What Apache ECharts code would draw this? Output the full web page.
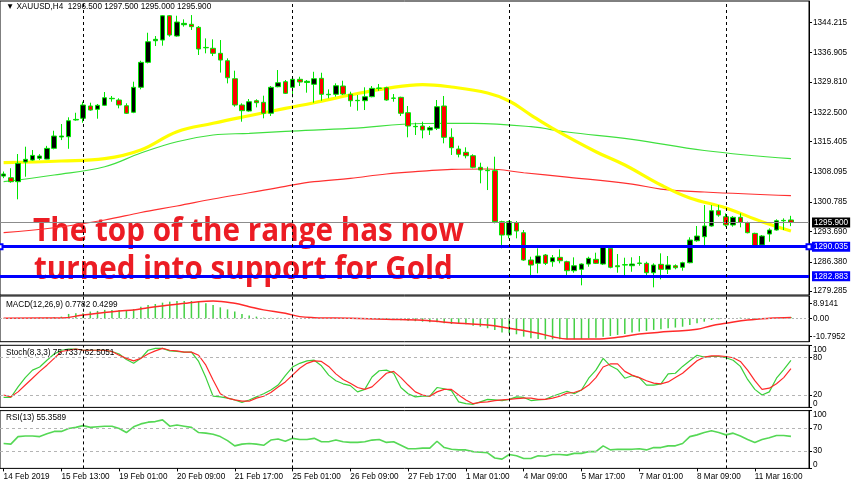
<!DOCTYPE html>
<html><head><meta charset="utf-8">
<script src="https://cdn.jsdelivr.net/npm/echarts@6/dist/echarts.min.js"></script>
<style>html,body{margin:0;padding:0;background:#fff}#c{width:852px;height:485px}</style>
</head><body><div id="c"></div>
<script>
const categories = [
'14 Feb 2019','14 Feb 09:00','14 Feb 13:00','14 Feb 17:00','14 Feb 21:00',
'15 Feb 01:00','15 Feb 05:00','15 Feb 09:00','15 Feb 13:00','15 Feb 17:00','15 Feb 21:00',
'18 Feb 01:00','18 Feb 05:00','18 Feb 09:00','18 Feb 13:00','18 Feb 17:00',
'19 Feb 01:00','19 Feb 05:00','19 Feb 09:00','19 Feb 13:00','19 Feb 17:00','19 Feb 21:00',
'20 Feb 01:00','20 Feb 05:00','20 Feb 09:00','20 Feb 13:00','20 Feb 17:00','20 Feb 21:00',
'21 Feb 01:00','21 Feb 05:00','21 Feb 09:00','21 Feb 13:00','21 Feb 17:00','21 Feb 21:00',
'22 Feb 01:00','22 Feb 05:00','22 Feb 09:00','22 Feb 13:00','22 Feb 17:00','22 Feb 21:00',
'25 Feb 01:00','25 Feb 05:00','25 Feb 09:00','25 Feb 13:00','25 Feb 17:00','25 Feb 21:00',
'26 Feb 01:00','26 Feb 05:00','26 Feb 09:00','26 Feb 13:00','26 Feb 17:00','26 Feb 21:00',
'27 Feb 01:00','27 Feb 05:00','27 Feb 09:00','27 Feb 13:00','27 Feb 17:00','27 Feb 21:00',
'28 Feb 01:00','28 Feb 05:00','28 Feb 09:00','28 Feb 13:00','28 Feb 17:00','28 Feb 21:00',
'1 Mar 01:00','1 Mar 05:00','1 Mar 09:00','1 Mar 13:00','1 Mar 17:00','1 Mar 21:00',
'4 Mar 01:00','4 Mar 05:00','4 Mar 09:00','4 Mar 13:00','4 Mar 17:00','4 Mar 21:00',
'5 Mar 01:00','5 Mar 05:00','5 Mar 09:00','5 Mar 13:00','5 Mar 17:00','5 Mar 21:00',
'6 Mar 01:00','6 Mar 05:00','6 Mar 09:00','6 Mar 13:00','6 Mar 17:00','6 Mar 21:00',
'7 Mar 01:00','7 Mar 05:00','7 Mar 09:00','7 Mar 13:00','7 Mar 17:00','7 Mar 21:00',
'8 Mar 01:00','8 Mar 05:00','8 Mar 09:00','8 Mar 13:00','8 Mar 17:00','8 Mar 21:00',
'11 Mar 00:00','11 Mar 04:00','11 Mar 08:00','11 Mar 12:00','11 Mar 16:00','11 Mar 20:00',
'12 Mar 00:00','12 Mar 04:00','12 Mar 08:00','12 Mar 12:00','12 Mar 16:00','12 Mar 20:00'
];
const opens = [1307.1,1306.7,1305.74,1310.5,1310.97,1311.4,1311.2,1313.8,1316.54,1316.61,
1320.65,1321.06,1324.03,1323.23,1324.2,1325.79,1325.48,1324.1,1322.51,1328.55,
1334.58,1339.8,1339.97,1345.84,1340.94,1343.67,1343.77,1343.04,1338.19,1337.97,
1336.76,1334.97,1330.62,1324.27,1322.82,1325.31,1324.92,1322.27,1328.69,1329.9,
1328.55,1330.48,1329.7,1329.27,1330.72,1326.76,1326.86,1328.86,1326.86,1325.31,
1325.31,1326.28,1328.3,1328.45,1325.96,1326.13,1322.41,1319.03,1319.2,1318.23,
1318.64,1324.03,1316.47,1313.64,1312.84,1312.02,1309.22,1308.49,1308.4,1296.08,
1292.86,1295.83,1293.42,1286.82,1286.02,1288.03,1286.41,1287.47,1286.41,1284.24,
1284.57,1285.85,1286.99,1285.85,1289.65,1285.44,1285.61,1285.44,1286.0,1286.02,
1283.75,1285.78,1284.57,1285.44,1285.06,1286.17,1291.48,1292.45,1295.04,1298.73,
1297.28,1295.28,1297.14,1295.83,1293.26,1290.45,1293.1,1294.07,1296.3,1296.5];
const closes = [1307.6,1305.74,1310.18,1311.15,1312.1,1311.95,1313.8,1316.78,1316.78,1320.48,
1320.8,1324.27,1323.06,1324.2,1326.03,1325.89,1324.27,1322.27,1328.55,1334.58,
1339.56,1340.14,1345.84,1341.18,1344.32,1344.0,1343.2,1337.8,1338.1,1336.76,
1335.14,1330.86,1324.27,1322.9,1325.07,1324.83,1322.27,1328.55,1329.66,1327.1,
1330.48,1329.83,1330.0,1330.62,1326.86,1326.86,1328.93,1326.93,1325.31,1325.4,
1326.28,1328.3,1328.38,1325.48,1325.89,1322.27,1319.2,1319.12,1318.23,1318.79,
1323.86,1316.47,1313.96,1312.36,1312.02,1309.22,1308.57,1308.4,1296.08,1292.86,
1296.08,1293.83,1286.82,1285.61,1287.79,1286.02,1287.38,1286.65,1284.24,1285.44,
1285.85,1287.23,1286.02,1289.89,1285.06,1285.2,1285.7,1285.85,1286.1,1283.75,
1285.61,1284.57,1285.61,1284.96,1286.17,1291.65,1292.62,1295.04,1298.73,1297.69,
1295.28,1297.14,1295.93,1293.42,1290.2,1292.62,1294.07,1296.32,1296.4,1295.9];
const lows = [1306.6,1305.5,1301.49,1306.94,1310.8,1310.97,1311.15,1313.56,1315.8,1313.7,
1320.48,1320.0,1322.9,1320.96,1324.03,1325.07,1323.47,1322.1,1322.3,1328.06,
1334.33,1338.52,1338.6,1340.77,1340.77,1343.2,1342.4,1336.35,1336.76,1336.1,
1332.1,1329.5,1323.86,1320.24,1322.65,1323.7,1321.06,1321.61,1328.55,1326.93,
1326.13,1328.86,1327.25,1324.83,1325.31,1325.89,1326.28,1326.69,1323.86,1322.9,
1323.06,1326.13,1327.72,1325.31,1325.07,1321.61,1316.47,1317.02,1316.22,1317.02,
1318.23,1315.02,1312.2,1311.63,1311.39,1308.98,1305.35,1303.73,1295.69,1289.65,
1292.06,1292.06,1286.65,1282.64,1283.61,1285.61,1285.2,1286.02,1282.96,1283.75,
1280.71,1285.2,1285.85,1285.61,1284.82,1283.75,1283.13,1283.99,1285.44,1283.2,
1280.22,1282.16,1283.44,1284.57,1284.24,1286.02,1291.24,1290.45,1294.87,1297.28,
1294.87,1294.87,1294.72,1293.26,1290.04,1290.2,1291.24,1293.9,1294.07,1295.0];
const highs = [1308.2,1309.0,1312.43,1314.2,1313.4,1312.4,1314.4,1318.06,1319.68,1321.3,
1322.4,1325.07,1324.83,1324.51,1327.41,1326.45,1325.89,1324.68,1329.9,1334.97,
1341.73,1340.94,1346.0,1346.0,1345.84,1344.97,1346.0,1343.36,1340.37,1340.14,
1339.97,1335.55,1332.56,1324.68,1325.72,1325.65,1326.52,1328.86,1332.72,1330.31,
1330.96,1331.1,1330.31,1332.3,1332.07,1328.06,1329.51,1330.14,1327.48,1326.69,
1328.55,1328.86,1329.35,1328.69,1326.93,1326.28,1324.03,1320.0,1320.24,1319.2,
1325.48,1326.45,1318.64,1314.44,1314.05,1312.36,1310.33,1309.36,1311.78,1296.32,
1296.32,1296.24,1294.07,1287.62,1289.65,1288.27,1288.03,1289.4,1286.65,1287.47,
1286.02,1287.62,1288.59,1290.04,1290.45,1288.27,1287.38,1287.47,1287.79,1286.41,
1286.02,1288.44,1287.79,1285.78,1286.41,1292.31,1295.04,1300.11,1300.11,1300.11,
1298.1,1297.45,1298.1,1296.08,1293.42,1292.86,1294.48,1296.65,1296.89,1297.5];
// moving averages read at sampled bars: [bar index, value]
const maYellow = [[0,1310.33],[8,1310.74],[14,1311.3],[19,1313.4],[24,1317.82],[29,1319.85],[34,1321.69],[39,1323.47],[43,1324.83],[48,1326.69],[53,1328.3],[58,1329.22],[62,1328.62],[67,1327.17],[70,1325.24],[73,1321.85],[76,1318.64],[82,1312.99],[86,1309.77],[91,1304.94],[95,1301.8],[100,1299.4],[105,1296.07],[109,1293.83]];
const maGreen = [[0,1305.74],[7,1307.36],[14,1309.36],[19,1312.67],[24,1315.4],[29,1317.02],[34,1317.43],[39,1317.92],[48,1318.64],[58,1319.8],[65,1319.85],[73,1319.03],[78,1317.75],[87,1315.98],[97,1313.28],[109,1311.3]];
const maRed = [[0,1293.42],[7,1294.62],[14,1296.49],[19,1298.3],[24,1299.87],[29,1301.56],[34,1303.08],[39,1304.63],[43,1305.74],[48,1306.56],[53,1307.6],[58,1308.28],[62,1308.74],[67,1308.81],[72,1307.91],[78,1306.87],[87,1305.18],[91,1303.97],[97,1303.25],[109,1302.36]];
const macdMain = [0.1,0.1,0.2,0.2,0.3,0.4,0.5,0.6,
1.0,2.6,3.0,3.0,4.0,4.4,5.0,5.0,5.0,4.6,5.5,6.9,
7.9,8.5,9.3,9.9,10.3,10.3,10.3,9.9,8.9,7.9,
6.5,5.3,4.0,2.6,1.6,1.0,0.4,0.4,0.3,0.2,
0.2,0.1,0.1,0.1,0.0,-0.1,-0.1,-0.1,
-0.2,-0.3,-0.4,-0.5,-0.6,-0.8,-1.0,-1.2,-1.4,-1.7,
-2.0,-2.4,-2.4,-3.0,-3.4,-3.0,-3.6,-4.4,-5.0,-5.9,
-6.9,-8.5,-8.9,-9.5,-10.9,-11.9,-12.3,-12.5,-12.5,-12.5,
-12.5,-12.5,-12.3,-11.9,-11.5,-10.9,-10.5,-9.9,-9.3,-8.5,
-7.9,-7.5,-6.9,-6.5,-5.9,-5.5,-5.0,-4.0,-3.0,-2.0,
-1.0,-0.6,0,0.2,0.4,0.2,-0.2,-0.4,-0.2,0.2,
0.6,0.78];
const macdSignal = [[0,0.1],[8,0.2],[11,2.0],[13,3.0],[16,4.4],[18,5.0],[20,6.3],[23,7.9],[25,8.9],[27,9.9],[29,10.3],[32,8.9],[34,6.9],[36,5.0],[39,3.0],[41,1.0],[43,0.4],[48,0],[53,-0.6],[58,-1.2],[63,-3.0],[67,-4.0],[70,-5.9],[72,-7.3],[74,-8.9],[76,-10.9],[78,-12.3],[82,-12.3],[85,-11.3],[88,-9.3],[92,-7.9],[96,-6.5],[98,-4.4],[100,-3.0],[103,-1.0],[106,0],[109,0.43]];
const stochK = [16,16,33,48,60,65,76,86,92,94, 94,92,92,92,92,90,86,77,71,79,
92,95,95,91,90,89,89,74,48,18, 17,15,12,8,12,17,22,28,36,51,
65,71,75,76,67,52,43,38,35,25, 29,49,59,60,55,32,22,17,18,18,
32,30,27,9,6,5,9,13,12,11, 13,17,16,11,12,13,18,22,26,22,
28,47,60,79,67,61,47,51,48,36, 36,38,54,55,66,75,84,81,82,82,
80,76,66,45,29,20,25,47,61,75.73];
const stochD = [20,17,25,36,47,58,68,79,90,92, 94,92,92,92,92,90,84,79,75,79,
86,91,95,92,91,89,89,84,68,44, 22,15,12,10,10,15,18,24,33,41,
52,63,71,75,74,66,54,45,39,32, 29,33,44,55,58,48,36,25,20,18,
25,29,29,20,12,6,8,9,11,12, 13,14,15,15,13,13,15,18,23,24,
28,36,48,65,70,70,58,52,48,43, 39,38,41,48,55,65,75,81,83,83,
82,80,74,60,43,29,31,38,48,62.51];
const rsi = [43,42,55,56,56,55,60,64,64,69, 71,74,71,72,73,73,69,62,72,77,
80,81,84,73,75,73,71,62,61,59, 55,48,39,42,43,42,40,49,51,47,
52,50,50,52,46,46,49,46,45,45, 46,49,50,45,46,40,34,34,35,35,
47,36,33,32,32,29,28,27,18,16, 24,22,17,17,22,21,24,24,23,26,
26,29,29,39,32,33,33,33,34,32, 36,36,39,39,43,55,58,62,65,62,
58,61,56,50,45,50,53,57,57,55.36];
const priceTicks = [1279.285,1286.380,1293.690,1300.785,1308.095,1315.405,1322.500,1329.810,1336.905,1344.215];
const macdTicks = [-10.7952,0,8.9141];
const stochTicks = [0,20,80,100];
const rsiTicks = [0,30,70,100];
const weekStarts = [11,40,70,100];
const priceNow = 1295.9, supportTop = 1290.035, supportLow = 1282.883;

const FONT = '"Liberation Sans",Arial,sans-serif';
const FS = 8.2;
const chart = echarts.init(document.getElementById('c'), null, {renderer:'canvas'});
const grids = [
  {left:0, width:809, top:1, height:294},
  {left:0, width:809, top:296, height:45.7},
  {left:0, width:809, top:345.3, height:62.1},
  {left:0, width:809, top:410.6, height:57.8}
].map(g => Object.assign(g, {show:true, borderColor:'#000', borderWidth:1, backgroundColor:'transparent'}));
const xAxes = grids.map((g,k) => ({
  type:'category', gridIndex:k, data:categories, boundaryGap:true,
  axisLine:{show:false}, splitLine:{show:false},
  axisTick: k===3 ? {show:true, interval:7, alignWithLabel:true, length:3, lineStyle:{color:'#000'}} : {show:false},
  axisLabel: k===3 ? {show:true, interval:7, align:'left', margin:4, fontSize:FS, color:'#000', fontFamily:FONT} : {show:false}
}));
function yAx(k, min, max, ticks, fmt, extra){
  return {type:'value', gridIndex:k, position:'right', min:min, max:max, scale:true,
    axisLine:{show:true, lineStyle:{color:'#000'}},
    axisTick:{show:true, length:3, customValues:ticks, lineStyle:{color:'#000'}},
    splitLine:{show:false},
    axisLabel:Object.assign({show:true, showMinLabel:true, showMaxLabel:true, hideOverlap:false, customValues:ticks, formatter:fmt, margin:4, fontSize:FS, color:'#000', fontFamily:FONT}, extra||{})};
}
const sepData = weekStarts.map(i=>({xAxis:i}));
const sepStyle = {type:[3,3], color:'#000', width:1};
function priceLabel(bg, txt){ return {show:true, position:'end', distance:3, formatter:()=>txt, backgroundColor:bg, color:'#fff', padding:[1,2,0,2], fontSize:FS, lineHeight:9, fontFamily:FONT}; }

const option = {
  animation:false,
  grid:grids, xAxis:xAxes,
  yAxis:[
    yAx(0, 1278.37, 1349.40, priceTicks, v=>v.toFixed(3)),
    yAx(1, -13.9, 13.25, macdTicks, v=> v===0 ? '0.00' : String(v)),
    yAx(2, 0, 100, stochTicks, v=>String(v), {verticalAlignMinLabel:'bottom', verticalAlignMaxLabel:'top'}),
    yAx(3, 0, 100, rsiTicks, v=>String(v), {verticalAlignMinLabel:'bottom', verticalAlignMaxLabel:'top'})
  ],
  series:[
    {type:'line', xAxisIndex:0, yAxisIndex:0, data:maGreen, smooth:0.4, showSymbol:false, lineStyle:{color:'#3fe03f', width:1.2}, z:2,
      markLine:{silent:true, symbol:['emptyRect','emptyRect'], symbolSize:5, data:[{yAxis:supportTop}],
        lineStyle:{type:'solid', color:'#0000ff', width:3}, itemStyle:{color:'#0000ff'}, label:priceLabel('#0000ff', supportTop.toFixed(3))}},
    {type:'line', xAxisIndex:0, yAxisIndex:0, data:maRed, smooth:0.4, showSymbol:false, lineStyle:{color:'#ff3030', width:1.2}, z:2,
      markLine:{silent:true, symbol:['none','none'], data:[{yAxis:supportLow}],
        lineStyle:{type:'solid', color:'#0000ff', width:3}, label:priceLabel('#0000ff', supportLow.toFixed(3))}},
    {type:'line', xAxisIndex:0, yAxisIndex:0, data:maYellow, smooth:0.4, showSymbol:false, lineStyle:{color:'#ffff00', width:3.2}, z:2,
      markLine:{silent:true, symbol:['none','none'], data:[{yAxis:priceNow}],
        lineStyle:{type:'solid', color:'#8c8c8c', width:1}, label:priceLabel('#000', priceNow.toFixed(3))}},
    {type:'candlestick', xAxisIndex:0, yAxisIndex:0, barWidth:5, z:3,
      data: opens.map((o,i)=>[o, closes[i], lows[i], highs[i]]),
      itemStyle:{color:'#000', color0:'#ff0000', borderColor:'#00e600', borderColor0:'#00e600', borderWidth:1},
      markLine:{silent:true, symbol:['none','none'], label:{show:false}, lineStyle:sepStyle, data:sepData}
    },
    {type:'bar', xAxisIndex:1, yAxisIndex:1, data:macdMain, barWidth:1.5, itemStyle:{color:'#44d044'},
      markLine:{silent:true, symbol:['none','none'], label:{show:false}, lineStyle:sepStyle,
        data:[...sepData, {yAxis:0, lineStyle:{type:[2,2], color:'#b4b4b4', width:1}}]}},
    {type:'line', xAxisIndex:1, yAxisIndex:1, data:macdSignal, smooth:0.4, showSymbol:false, lineStyle:{color:'#ff2a2a', width:1.5}},
    {type:'line', xAxisIndex:2, yAxisIndex:2, data:stochK, showSymbol:false, lineStyle:{color:'#3ad03a', width:1.2},
      markLine:{silent:true, symbol:['none','none'], label:{show:false}, lineStyle:{type:[3,3], color:'#b4b4b4', width:1},
        data:[{yAxis:20},{yAxis:80}]}},
    {type:'line', xAxisIndex:2, yAxisIndex:2, data:stochD, showSymbol:false, lineStyle:{color:'#ff2a2a', width:1.2},
      markLine:{silent:true, symbol:['none','none'], label:{show:false}, lineStyle:sepStyle, data:sepData}},
    {type:'line', xAxisIndex:3, yAxisIndex:3, data:rsi, showSymbol:false, lineStyle:{color:'#55d855', width:1.6},
      markLine:{silent:true, symbol:['none','none'], label:{show:false}, lineStyle:sepStyle, data:[
        ...sepData,
        {yAxis:30, lineStyle:{type:[3,3], color:'#b4b4b4', width:1}},
        {yAxis:70, lineStyle:{type:[3,3], color:'#b4b4b4', width:1}}
      ]}}
  ],
  graphic:[
    {type:'text', x:6, y:7, z:50, style:{text:'\u25BC XAUUSD,H4  1296.500 1297.500 1295.000 1295.900', font:FS+'px '+FONT, fill:'#000', verticalAlign:'middle'}},
    {type:'text', x:6, y:305, z:50, style:{text:'MACD(12,26,9) 0.7782 0.4299', font:FS+'px '+FONT, fill:'#000', verticalAlign:'middle'}},
    {type:'text', x:6, y:353, z:50, style:{text:'Stoch(8,3,3) 75.7337 62.5051', font:FS+'px '+FONT, fill:'#000', verticalAlign:'middle'}},
    {type:'text', x:6, y:418, z:50, style:{text:'RSI(13) 55.3589', font:FS+'px '+FONT, fill:'#000', verticalAlign:'middle'}},
    {type:'text', x:33, y:232, scaleX:0.927, z:0, style:{text:'The top of the range has now', font:'bold 32px "Open Sans"', fill:'#ec1c24', verticalAlign:'middle'}},
    {type:'text', x:34, y:270, scaleX:0.925, z:0, style:{text:'turned into support for Gold', font:'bold 32px "Open Sans"', fill:'#ec1c24', verticalAlign:'middle'}}
  ]
};
chart.setOption(option);
</script>
</body></html>
